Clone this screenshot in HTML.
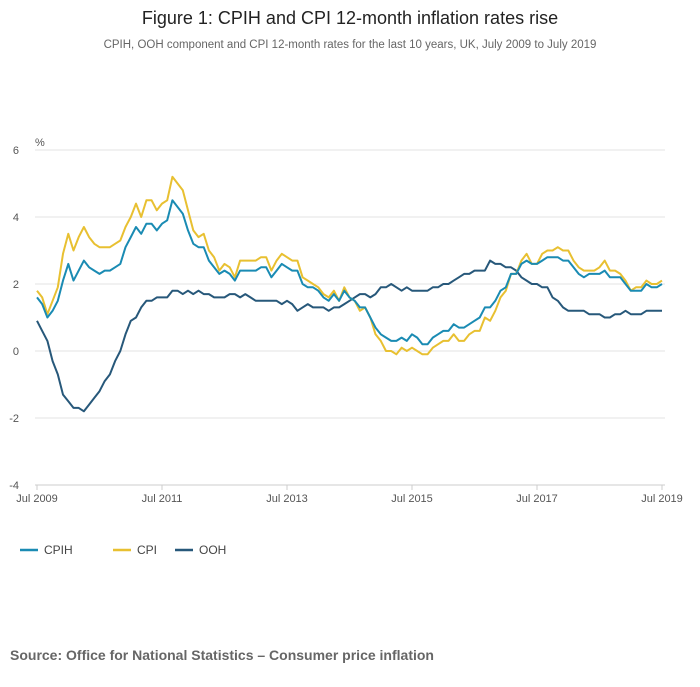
<!DOCTYPE html>
<html><head><meta charset="utf-8"><style>
body{margin:0;background:#fff;font-family:"Liberation Sans",sans-serif;}
#wrap{position:relative;width:700px;height:682px;}
</style></head><body>
<div id="wrap">
<svg id="chart" width="700" height="682">
<text x="350" y="24" text-anchor="middle" font-size="18" fill="#222">Figure 1: CPIH and CPI 12-month inflation rates rise</text>
<text x="350" y="48" text-anchor="middle" font-size="11.5" fill="#666">CPIH, OOH component and CPI 12-month rates for the last 10 years, UK, July 2009 to July 2019</text>
<text x="35" y="146" font-size="11" fill="#555">%</text>
<g id="grid"></g><g id="lines"></g>
<g>
<g><line x1="20" y1="550" x2="38" y2="550" stroke="#1a8bb3" stroke-width="2.5"/><text x="44" y="554" font-size="12" fill="#444">CPIH</text></g>
<g><line x1="113" y1="550" x2="131" y2="550" stroke="#e8c031" stroke-width="2.5"/><text x="137" y="554" font-size="12" fill="#444">CPI</text></g>
<g><line x1="175" y1="550" x2="193" y2="550" stroke="#27587a" stroke-width="2.5"/><text x="199" y="554" font-size="12" fill="#444">OOH</text></g>
</g>
<text x="10" y="660" font-size="14" font-weight="bold" fill="#666">Source: Office for National Statistics – Consumer price inflation</text>
</svg>
</div>
<script>
const yTicks=[6,4,2,0,-2,-4];
const xTickLabels=["Jul 2009","Jul 2011","Jul 2013","Jul 2015","Jul 2017","Jul 2019"];
const xTickIdx=[0,24,48,72,96,120];
const cpih=[1.6,1.4,1.0,1.2,1.5,2.1,
2.6,2.1,2.4,2.7,2.5,2.4,2.3,2.4,2.4,2.5,2.6,3.1,
3.4,3.7,3.5,3.8,3.8,3.6,3.8,3.9,4.5,4.3,4.1,3.6,
3.2,3.1,3.1,2.7,2.5,2.3,2.4,2.3,2.1,2.4,2.4,2.4,
2.4,2.5,2.5,2.2,2.4,2.6,2.5,2.4,2.4,2.0,1.9,1.9,
1.8,1.6,1.5,1.7,1.5,1.8,1.6,1.5,1.3,1.3,1.0,0.7,
0.5,0.4,0.3,0.3,0.4,0.3,0.5,0.4,0.2,0.2,0.4,0.5,
0.6,0.6,0.8,0.7,0.7,0.8,0.9,1.0,1.3,1.3,1.5,1.8,
1.9,2.3,2.3,2.6,2.7,2.6,2.6,2.7,2.8,2.8,2.8,2.7,
2.7,2.5,2.3,2.2,2.3,2.3,2.3,2.4,2.2,2.2,2.2,2.0,
1.8,1.8,1.8,2.0,1.9,1.9,2.0];
const cpi=[1.8,1.6,1.1,1.5,1.9,2.9,
3.5,3.0,3.4,3.7,3.4,3.2,3.1,3.1,3.1,3.2,3.3,3.7,
4.0,4.4,4.0,4.5,4.5,4.2,4.4,4.5,5.2,5.0,4.8,4.2,
3.6,3.4,3.5,3.0,2.8,2.4,2.6,2.5,2.2,2.7,2.7,2.7,
2.7,2.8,2.8,2.4,2.7,2.9,2.8,2.7,2.7,2.2,2.1,2.0,
1.9,1.7,1.6,1.8,1.5,1.9,1.6,1.5,1.2,1.3,1.0,0.5,
0.3,0.0,0.0,-0.1,0.1,0.0,0.1,0.0,-0.1,-0.1,0.1,0.2,
0.3,0.3,0.5,0.3,0.3,0.5,0.6,0.6,1.0,0.9,1.2,1.6,
1.8,2.3,2.3,2.7,2.9,2.6,2.6,2.9,3.0,3.0,3.1,3.0,
3.0,2.7,2.5,2.4,2.4,2.4,2.5,2.7,2.4,2.4,2.3,2.1,
1.8,1.9,1.9,2.1,2.0,2.0,2.1];
const ooh=[0.9,0.6,0.3,-0.3,-0.7,-1.3,
-1.5,-1.7,-1.7,-1.8,-1.6,-1.4,-1.2,-0.9,-0.7,-0.3,0.0,0.5,
0.9,1.0,1.3,1.5,1.5,1.6,1.6,1.6,1.8,1.8,1.7,1.8,
1.7,1.8,1.7,1.7,1.6,1.6,1.6,1.7,1.7,1.6,1.7,1.6,
1.5,1.5,1.5,1.5,1.5,1.4,1.5,1.4,1.2,1.3,1.4,1.3,
1.3,1.3,1.2,1.3,1.3,1.4,1.5,1.6,1.7,1.7,1.6,1.7,
1.9,1.9,2.0,1.9,1.8,1.9,1.8,1.8,1.8,1.8,1.9,1.9,
2.0,2.0,2.1,2.2,2.3,2.3,2.4,2.4,2.4,2.7,2.6,2.6,
2.5,2.5,2.4,2.2,2.1,2.0,2.0,1.9,1.9,1.6,1.5,1.3,
1.2,1.2,1.2,1.2,1.1,1.1,1.1,1.0,1.0,1.1,1.1,1.2,
1.1,1.1,1.1,1.2,1.2,1.2,1.2];
const X0=37,X1=662,Y0=150,Y1=485,VMAX=6,VMIN=-4,N=121;
const xs=i=>X0+(X1-X0)*i/(N-1);
const ys=v=>Y0+(VMAX-v)*(Y1-Y0)/(VMAX-VMIN);
const NS="http://www.w3.org/2000/svg";
const grid=document.getElementById('grid'),lines=document.getElementById('lines');
yTicks.forEach(t=>{
 const l=document.createElementNS(NS,'line');
 l.setAttribute('x1',X0-2);l.setAttribute('x2',665);l.setAttribute('y1',ys(t));l.setAttribute('y2',ys(t));
 l.setAttribute('stroke',t===-4?'#ccc':'#e3e3e3');l.setAttribute('stroke-width','1');
 
 
 grid.appendChild(l);
 const tx=document.createElementNS(NS,'text');
 tx.setAttribute('x',19);tx.setAttribute('y',ys(t)+4);tx.setAttribute('font-size','11');tx.setAttribute('fill','#555');tx.setAttribute('text-anchor','end');
 tx.textContent=t;
 
 
 grid.appendChild(tx);
});
xTickIdx.forEach((idx,k)=>{
 const l=document.createElementNS(NS,'line');
 l.setAttribute('x1',xs(idx));l.setAttribute('x2',xs(idx));l.setAttribute('y1',Y1);l.setAttribute('y2',Y1+5);l.setAttribute('stroke','#ccc');
 
 
 grid.appendChild(l);
 const tx=document.createElementNS(NS,'text');
 tx.setAttribute('x',xs(idx));tx.setAttribute('y',Y1+17);tx.setAttribute('font-size','11');tx.setAttribute('fill','#555');tx.setAttribute('text-anchor','middle');
 tx.textContent=xTickLabels[k];
 
 
 grid.appendChild(tx);
});
[[ooh,'#27587a','ooh-line'],[cpi,'#e8c031','cpi-line'],[cpih,'#1a8bb3','cpih-line']].forEach(([d,c,n])=>{
 const p=document.createElementNS(NS,'path');
 p.setAttribute('d',d.map((v,i)=>(i?'L':'M')+xs(i).toFixed(1)+','+ys(v).toFixed(1)).join(''));
 p.setAttribute('fill','none');p.setAttribute('stroke',c);p.setAttribute('stroke-width','2');p.setAttribute('stroke-linejoin','round');
 
 
 lines.appendChild(p);
});
</script>
</body></html>
